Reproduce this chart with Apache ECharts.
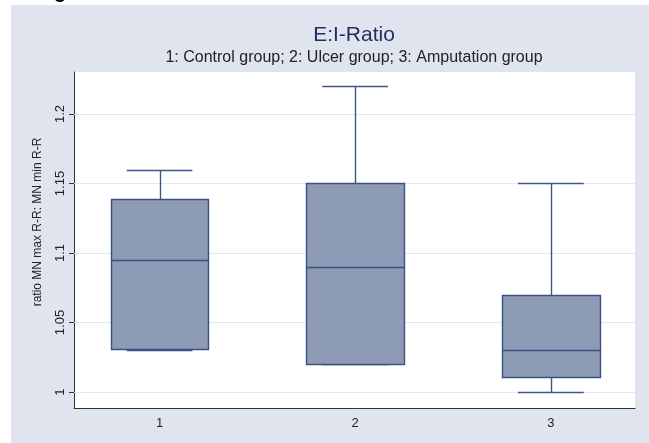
<!DOCTYPE html>
<html>
<head>
<meta charset="utf-8">
<title>E:I-Ratio</title>
<script src="https://cdn.jsdelivr.net/npm/echarts@6/dist/echarts.min.js"></script>
<style>
  html, body { margin: 0; padding: 0; background: #ffffff; }
  #backdrop { position: absolute; left: 11px; top: 5px; width: 638px; height: 438px; background: #e0e4ee; }
  #chart { position: absolute; left: 0; top: 0; width: 649px; height: 443px; }
</style>
</head>
<body>
<div id="backdrop"></div>
<div id="chart"></div>
<script>
// Group positions on the x axis and their labels
const groupPositions = [1, 2, 3];
const groupLabels = ['1', '2', '3'];

// Five-number summaries per group (E:I ratio)
const whiskerLow  = [1.030, 1.020, 1.000];
const quartile1   = [1.031, 1.0205, 1.011];
const medians     = [1.095, 1.090, 1.030];
const quartile3   = [1.139, 1.150, 1.070];
const whiskerHigh = [1.160, 1.220, 1.150];

// Y tick values
const yTicks = [1, 1.05, 1.1, 1.15, 1.2];

const boxData = groupPositions.map((x, i) => [x, whiskerLow[i], quartile1[i], medians[i], quartile3[i], whiskerHigh[i]]);

const BOX_HALF = 0.25;   // half box width in x units
const CAP_HALF = 0.168;  // half whisker-cap width in x units
const BOX_FILL = '#8e9bb4';
const BOX_EDGE = '#3a5283';
const WHISK = '#3f5687';

function crisp(v) { return Math.round(v) + 0.5; }

function renderBox(params, api) {
  const x = api.value(0);
  const lo = api.value(1), q1 = api.value(2), md = api.value(3), q3 = api.value(4), hi = api.value(5);
  const tl = api.coord([x - BOX_HALF, q3]);
  const br = api.coord([x + BOX_HALF, q1]);
  const c = api.coord([x, md]);
  const pHi = api.coord([x, hi]);
  const pLo = api.coord([x, lo]);
  const capL = api.coord([x - CAP_HALF, hi])[0];
  const capR = api.coord([x + CAP_HALF, hi])[0];
  const cx = crisp(c[0]);
  const x0 = crisp(tl[0]), x1 = crisp(br[0]);
  const yTop = crisp(tl[1]), yBot = crisp(br[1]);
  const yMed = crisp(c[1]);
  const yHi = crisp(pHi[1]), yLo = crisp(pLo[1]);
  const lineStyle = { stroke: WHISK, lineWidth: 1.4, fill: null };
  return {
    type: 'group',
    children: [
      { type: 'line', shape: { x1: cx, y1: yTop, x2: cx, y2: yHi }, style: lineStyle },
      { type: 'line', shape: { x1: cx, y1: yBot, x2: cx, y2: yLo }, style: lineStyle },
      { type: 'line', shape: { x1: capL, y1: yHi, x2: capR, y2: yHi }, style: lineStyle },
      { type: 'line', shape: { x1: capL, y1: yLo, x2: capR, y2: yLo }, style: lineStyle },
      { type: 'rect', shape: { x: x0, y: yTop, width: x1 - x0, height: yBot - yTop },
        style: { fill: BOX_FILL, stroke: BOX_EDGE, lineWidth: 1.4 } },
      { type: 'line', shape: { x1: x0, y1: yMed, x2: x1, y2: yMed },
        style: { stroke: BOX_EDGE, lineWidth: 1.4 } }
    ]
  };
}

const chart = echarts.init(document.getElementById('chart'), null, { renderer: 'canvas' });

const FONT = 'Liberation Sans, Arial, sans-serif';

chart.setOption({
  backgroundColor: 'transparent',
  animation: false,
  grid: {
    left: 74, top: 72, width: 561, height: 336,
    show: true, backgroundColor: '#ffffff', borderWidth: 0
  },
  xAxis: {
    type: 'value',
    min: 0.563, max: 3.43,
    axisLine: { show: true, lineStyle: { color: '#333333', width: 1 } },
    axisTick: { show: false },
    splitLine: { show: false },
    axisLabel: {
      customValues: groupPositions,
      formatter: (v) => groupLabels[groupPositions.indexOf(v)],
      color: '#222222', fontFamily: FONT, fontSize: 13, margin: 9
    }
  },
  yAxis: {
    type: 'value',
    min: 0.9885, max: 1.2302,
    axisLine: { show: true, lineStyle: { color: '#333333', width: 1 } },
    axisTick: { show: true, customValues: yTicks, length: 5, lineStyle: { color: '#333333' } },
    splitLine: { show: false },
    axisLabel: {
      customValues: yTicks,
      formatter: (v) => String(+v.toFixed(2)),
      rotate: 90,
      color: '#222222', fontFamily: FONT, fontSize: 13, margin: 7
    }
  },
  graphic: [
    { type: 'text', style: { text: 'E:I-Ratio', x: 354, y: 35, fill: '#1e2d5e', font: '21px ' + FONT, textAlign: 'center', textVerticalAlign: 'middle' } },
    { type: 'text', style: { text: '1: Control group; 2: Ulcer group; 3: Amputation group', x: 354, y: 58, fill: '#222222', font: '16px ' + FONT, textAlign: 'center', textVerticalAlign: 'middle' } },
    { type: 'text', rotation: Math.PI / 2, x: 38, y: 222, style: { text: 'ratio MN max R-R: MN min R-R', x: 0, y: 0, fill: '#222222', font: '12px ' + FONT, textAlign: 'center', textVerticalAlign: 'middle' } },
    { type: 'text', style: { text: 'g', x: 60, y: 2, fill: '#000000', font: 'bold 20px ' + FONT, textAlign: 'center', textVerticalAlign: 'bottom' } }
  ],
  series: [
    {
      type: 'custom',
      renderItem: () => null,
      data: [],
      z: 1,
      markLine: {
        silent: true,
        z: 1,
        symbol: 'none',
        label: { show: false },
        lineStyle: { color: '#e3e8f0', width: 1, type: 'solid' },
        data: yTicks.map((v) => ({ yAxis: v }))
      }
    },
    {
      type: 'custom',
      renderItem: renderBox,
      encode: { x: 0, y: [1, 2, 3, 4, 5] },
      data: boxData,
      z: 3
    }
  ]
});
</script>
</body>
</html>
